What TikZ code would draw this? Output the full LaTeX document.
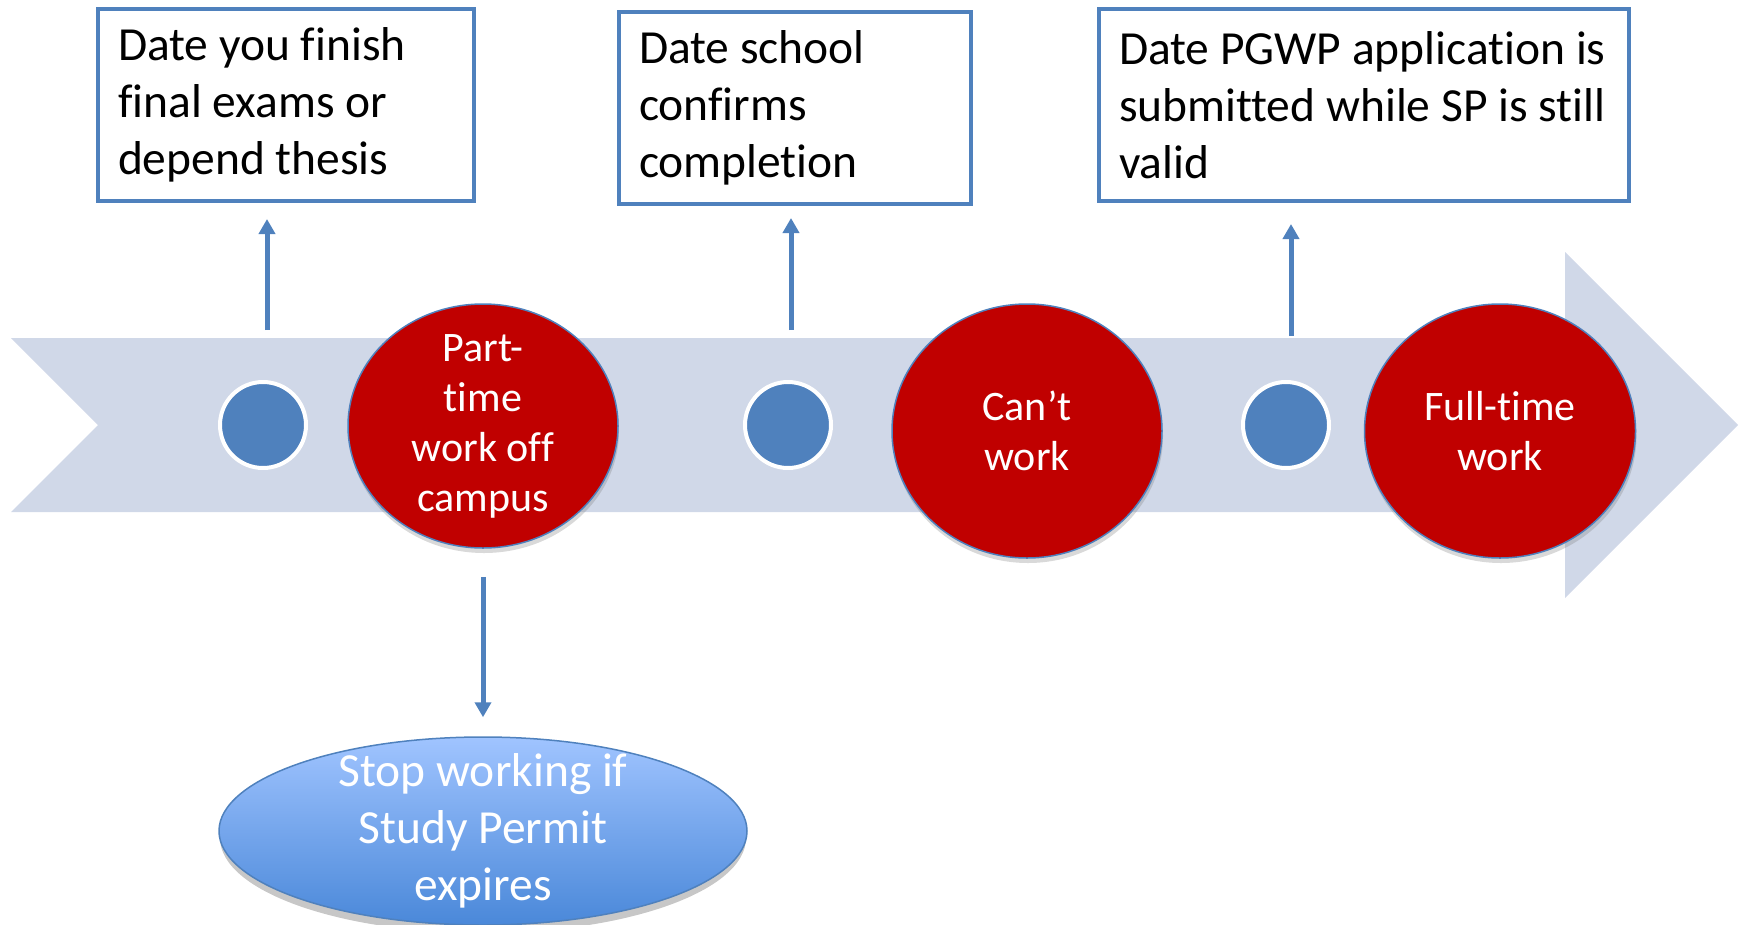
\documentclass[tikz,border=0pt]{standalone}
\usepackage{fontspec}
\setmainfont{Carlito}[Ligatures=NoCommon]
\usetikzlibrary{arrows.meta}
\usetikzlibrary{shapes.geometric}
\usetikzlibrary{shadows}
\definecolor{bandblue}{HTML}{D0D8E8}
\definecolor{steel}{HTML}{4F81BD}
\definecolor{deepred}{HTML}{C00000}
\definecolor{skytop}{HTML}{A0C4FF}
\definecolor{skybot}{HTML}{4A88D9}
% let a line run a little past the text width instead of wrapping
\newcommand\longline{\rightskip=-30pt plus 1fil\relax}
\tikzset{
    datebox/.style = {rectangle, draw=steel, line width=4pt, fill=white, inner xsep=0pt, inner ysep=0pt, align=flush left, minimum height=192pt, font=\fontsize{47.5pt}{57pt}\selectfont},
    milestone/.style = {circle, fill=steel, draw=white, line width=4pt, minimum size=86pt, inner sep=0pt},
    phase/.style = {ellipse, fill=deepred, draw=steel, line width=1.5pt, inner sep=-12pt, text=white, align=center, font=\fontsize{42pt}{50pt}\selectfont, drop shadow={shadow xshift=1pt, shadow yshift=-5pt, opacity=0.3}},
    expiry/.style = {ellipse, draw=steel, line width=1.5pt, top color=skytop, bottom color=skybot, inner sep=-15pt, text=white, align=center, font=\fontsize{47.5pt}{57pt}\selectfont},
    link/.style = {draw=steel, line width=5pt, -{Triangle[width=16pt,length=15pt]}}
}

\begin{document}
\begin{tikzpicture}[x=1pt, y=-1pt]
    \useasboundingbox (0,0) rectangle (1742,924);

    % timeline band
    \fill[bandblue] (11,338) -- (1565,338) -- (1565,252) -- (1738,425)
        -- (1565,598) -- (1565,512) -- (11,512) -- (98,425) -- cycle;

    \coordinate (u1) at (267,330);
    \coordinate (v1) at (267,219);
    \coordinate (u2) at (791,330);
    \coordinate (v2) at (791,218);
    \coordinate (u3) at (1291,336);
    \coordinate (v3) at (1291,224);

    \node [milestone] (m1) at (263,425) {};
    \node [milestone] (m2) at (788,425) {};
    \node [milestone] (m3) at (1286,425) {};

    \node [phase, minimum width=270pt, minimum height=244pt] (part) at (483,426) {Part-\\time\\work off\\campus};
    \node [phase, minimum width=270pt, minimum height=254pt] (cant) at (1027,431) {Can’t\\work};
    \node [phase, minimum width=271pt, minimum height=254pt] (full) at (1500,431) {Full-time\\work};

    \fill[black, opacity=0.22] (483,838) ellipse (263pt and 95pt);
    \node [expiry, minimum width=528pt, minimum height=188pt] (stop) at (483,831) {Stop working if\\Study Permit\\expires};

    \node [datebox, minimum width=376pt, text width=336pt] (finish) at (286,104.5) {\longline Date you finish\\final exams or\\depend thesis};
    \node [datebox, minimum width=352pt, text width=312pt] (confirm) at (795,107.5) {\longline Date school\\confirms\\completion};
    \node [datebox, minimum width=530pt, text width=490pt] (submit) at (1364,105) {\longline Date PGWP application is\\submitted while SP is still\\valid};

    \draw[link] (u1) -- (v1);
    \draw[link] (u2) -- (v2);
    \draw[link] (u3) -- (v3);
    \draw[link] ([yshift=-28pt]part.south) -- ([yshift=19pt]stop.north);
\end{tikzpicture}
\end{document}
